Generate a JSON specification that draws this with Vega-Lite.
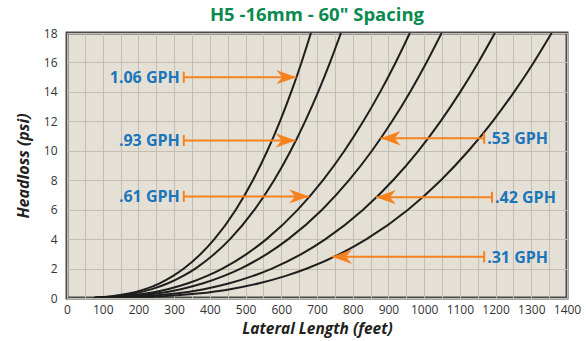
{
  "$schema": "https://vega.github.io/schema/vega-lite/v6.json",
  "width": 500,
  "height": 265,
  "autosize": {"type": "none"},
  "padding": {"left": 67, "top": 33, "right": 19, "bottom": 43},
  "background": "white",
  "title": {"text": "H5 -16mm - 60\" Spacing", "color": "#0a8a4f", "font": "Open Sans", "fontSize": 18.5, "fontWeight": "bold", "offset": 3, "anchor": "middle"},
  "config": {
    "view": {"fill": "#e5e0d5", "stroke": "#4a4a4a", "strokeWidth": 3},
    "font": "Open Sans",
    "axis": {"labelOverlap": false, "labelFlush": false}
  },
  "datasets": {
    "curves": [
      {"gph": "1.06", "L": 75, "h": 0}, {"gph": "1.06", "L": 80.1, "h": 0.03}, {"gph": "1.06", "L": 119.9, "h": 0.1}, {"gph": "1.06", "L": 173.3, "h": 0.3}, {"gph": "1.06", "L": 218.6, "h": 0.6}, {"gph": "1.06", "L": 259.3, "h": 1}, {"gph": "1.06", "L": 297.1, "h": 1.5}, {"gph": "1.06", "L": 327.2, "h": 2}, {"gph": "1.06", "L": 374.8, "h": 3}, {"gph": "1.06", "L": 412.7, "h": 4}, {"gph": "1.06", "L": 472.7, "h": 6}, {"gph": "1.06", "L": 520.5, "h": 8}, {"gph": "1.06", "L": 561, "h": 10}, {"gph": "1.06", "L": 596.3, "h": 12}, {"gph": "1.06", "L": 627.9, "h": 14}, {"gph": "1.06", "L": 656.6, "h": 16}, {"gph": "1.06", "L": 683, "h": 18},
      {"gph": ".93", "L": 75, "h": 0}, {"gph": ".93", "L": 84.4, "h": 0.03}, {"gph": ".93", "L": 127.9, "h": 0.1}, {"gph": ".93", "L": 186.8, "h": 0.3}, {"gph": ".93", "L": 237.2, "h": 0.6}, {"gph": ".93", "L": 283, "h": 1}, {"gph": ".93", "L": 325.4, "h": 1.5}, {"gph": ".93", "L": 359.4, "h": 2}, {"gph": ".93", "L": 413.3, "h": 3}, {"gph": ".93", "L": 456.5, "h": 4}, {"gph": ".93", "L": 525.1, "h": 6}, {"gph": ".93", "L": 579.9, "h": 8}, {"gph": ".93", "L": 626.3, "h": 10}, {"gph": ".93", "L": 666.8, "h": 12}, {"gph": ".93", "L": 703.3, "h": 14}, {"gph": ".93", "L": 736.5, "h": 16}, {"gph": ".93", "L": 767, "h": 18},
      {"gph": ".61", "L": 75, "h": 0}, {"gph": ".61", "L": 95.9, "h": 0.03}, {"gph": ".61", "L": 148, "h": 0.1}, {"gph": ".61", "L": 219.8, "h": 0.3}, {"gph": ".61", "L": 282.1, "h": 0.6}, {"gph": ".61", "L": 339.2, "h": 1}, {"gph": ".61", "L": 392.4, "h": 1.5}, {"gph": ".61", "L": 435.3, "h": 2}, {"gph": ".61", "L": 503.7, "h": 3}, {"gph": ".61", "L": 558.6, "h": 4}, {"gph": ".61", "L": 646.4, "h": 6}, {"gph": ".61", "L": 716.9, "h": 8}, {"gph": ".61", "L": 776.9, "h": 10}, {"gph": ".61", "L": 829.6, "h": 12}, {"gph": ".61", "L": 877, "h": 14}, {"gph": ".61", "L": 920.2, "h": 16}, {"gph": ".61", "L": 960, "h": 18},
      {"gph": ".53", "L": 75, "h": 0}, {"gph": ".53", "L": 111.8, "h": 0.03}, {"gph": ".53", "L": 170.4, "h": 0.1}, {"gph": ".53", "L": 250.3, "h": 0.3}, {"gph": ".53", "L": 319, "h": 0.6}, {"gph": ".53", "L": 381.4, "h": 1}, {"gph": ".53", "L": 439.6, "h": 1.5}, {"gph": ".53", "L": 486.2, "h": 2}, {"gph": ".53", "L": 560.3, "h": 3}, {"gph": ".53", "L": 619.6, "h": 4}, {"gph": ".53", "L": 714.2, "h": 6}, {"gph": ".53", "L": 789.8, "h": 8}, {"gph": ".53", "L": 853.9, "h": 10}, {"gph": ".53", "L": 910.2, "h": 12}, {"gph": ".53", "L": 960.7, "h": 14}, {"gph": ".53", "L": 1006.6, "h": 16}, {"gph": ".53", "L": 1049, "h": 18},
      {"gph": ".42", "L": 75, "h": 0}, {"gph": ".42", "L": 140.5, "h": 0.03}, {"gph": ".42", "L": 210.4, "h": 0.1}, {"gph": ".42", "L": 303.9, "h": 0.3}, {"gph": ".42", "L": 383.4, "h": 0.6}, {"gph": ".42", "L": 454.9, "h": 1}, {"gph": ".42", "L": 521.1, "h": 1.5}, {"gph": ".42", "L": 573.8, "h": 2}, {"gph": ".42", "L": 657.3, "h": 3}, {"gph": ".42", "L": 723.8, "h": 4}, {"gph": ".42", "L": 829.1, "h": 6}, {"gph": ".42", "L": 913, "h": 8}, {"gph": ".42", "L": 983.9, "h": 10}, {"gph": ".42", "L": 1045.9, "h": 12}, {"gph": ".42", "L": 1101.3, "h": 14}, {"gph": ".42", "L": 1151.6, "h": 16}, {"gph": ".42", "L": 1198, "h": 18},
      {"gph": ".31", "L": 75, "h": 0}, {"gph": ".31", "L": 175.2, "h": 0.03}, {"gph": ".31", "L": 257.6, "h": 0.1}, {"gph": ".31", "L": 366.1, "h": 0.3}, {"gph": ".31", "L": 457, "h": 0.6}, {"gph": ".31", "L": 538.2, "h": 1}, {"gph": ".31", "L": 612.7, "h": 1.5}, {"gph": ".31", "L": 671.9, "h": 2}, {"gph": ".31", "L": 764.8, "h": 3}, {"gph": ".31", "L": 838.6, "h": 4}, {"gph": ".31", "L": 954.8, "h": 6}, {"gph": ".31", "L": 1046.8, "h": 8}, {"gph": ".31", "L": 1124.3, "h": 10}, {"gph": ".31", "L": 1191.9, "h": 12}, {"gph": ".31", "L": 1252.1, "h": 14}, {"gph": ".31", "L": 1306.8, "h": 16}, {"gph": ".31", "L": 1357, "h": 18}
    ],
    "arrows": [
      {"label": "1.06 GPH", "h": 15, "L": 327, "L2": 642, "dir": "right"},
      {"label": ".93 GPH", "h": 10.7, "L": 327, "L2": 640, "dir": "right"},
      {"label": ".61 GPH", "h": 6.9, "L": 327, "L2": 678, "dir": "right"},
      {"label": ".53 GPH", "h": 10.85, "L": 1168, "L2": 878, "dir": "left"},
      {"label": ".42 GPH", "h": 6.85, "L": 1190, "L2": 865, "dir": "left"},
      {"label": ".31 GPH", "h": 2.8, "L": 1168, "L2": 742, "dir": "left"}
    ],
    "heads": [
      {"h": 15, "L": 642, "dir": "right"},
      {"h": 10.7, "L": 640, "dir": "right"},
      {"h": 6.9, "L": 678, "dir": "right"},
      {"h": 10.85, "L": 878, "dir": "left"},
      {"h": 6.85, "L": 865, "dir": "left"},
      {"h": 2.8, "L": 742, "dir": "left"}
    ]
  },
  "encoding": {
    "x": {
      "field": "L", "type": "quantitative",
      "scale": {"domain": [0, 1400], "nice": false, "zero": false},
      "axis": {
        "title": "Lateral Length (feet)",
        "values": [0, 50, 100, 150, 200, 250, 300, 350, 400, 450, 500, 550, 600, 650, 700, 750, 800, 850, 900, 950, 1000, 1050, 1100, 1150, 1200, 1250, 1300, 1350, 1400],
        "labelExpr": "datum.value % 100 === 0 ? datum.label : ''",
        "format": "d",
        "ticks": false, "domain": false,
        "grid": true, "gridColor": "#c4beb2", "gridWidth": 1, "gridOpacity": 1,
        "labelFont": "Open Sans", "labelFontSize": 12, "labelColor": "#333333", "labelPadding": 6,
        "labelOverlap": false, "labelFlush": false,
        "titleFont": "Open Sans", "titleFontSize": 15.5, "titleFontWeight": "bold", "titleFontStyle": "italic", "titleColor": "#231f20", "titlePadding": 6
      }
    },
    "y": {
      "field": "h", "type": "quantitative",
      "scale": {"domain": [0, 18], "nice": false},
      "axis": {
        "title": "Headloss (psi)",
        "values": [0, 2, 4, 6, 8, 10, 12, 14, 16, 18],
        "ticks": false, "domain": false,
        "grid": true, "gridColor": "#c4beb2", "gridWidth": 1, "gridOpacity": 1,
        "labelFont": "Open Sans", "labelFontSize": 12, "labelColor": "#333333", "labelPadding": 10,
        "labelOverlap": false,
        "titleFont": "Open Sans", "titleFontSize": 16, "titleFontWeight": "bold", "titleFontStyle": "italic", "titleColor": "#231f20", "titlePadding": 12
      }
    }
  },
  "layer": [
    {
      "data": {"name": "curves"},
      "mark": {"type": "line", "interpolate": "monotone", "color": "#1e1e1e", "strokeWidth": 2, "clip": true},
      "encoding": {"detail": {"field": "gph"}}
    },
    {
      "data": {"name": "arrows"},
      "mark": {"type": "rule", "color": "#f5821f", "strokeWidth": 2},
      "encoding": {"x2": {"field": "L2"}}
    },
    {
      "data": {"name": "arrows"},
      "mark": {"type": "tick", "orient": "vertical", "color": "#f5821f", "thickness": 2, "size": 11, "opacity": 1},
      "encoding": {}
    },
    {
      "data": {"name": "heads"},
      "mark": {"type": "point", "filled": true, "color": "#f5821f", "size": 400, "opacity": 1, "strokeWidth": 0},
      "encoding": {
        "shape": {
          "field": "dir", "type": "nominal",
          "scale": {"domain": ["right", "left"], "range": ["M0,0L-2,-0.72L-1.4,0L-2,0.72Z", "M0,0L2,-0.72L1.4,0L2,0.72Z"]},
          "legend": null
        }
      }
    },
    {
      "data": {"name": "arrows"},
      "transform": [{"filter": "datum.dir === 'right'"}],
      "mark": {"type": "text", "align": "right", "baseline": "middle", "dx": -4, "dy": 1, "font": "Open Sans", "fontSize": 16, "fontWeight": "bold", "color": "#1b75bb"},
      "encoding": {"text": {"field": "label"}}
    },
    {
      "data": {"name": "arrows"},
      "transform": [{"filter": "datum.dir === 'left'"}],
      "mark": {"type": "text", "align": "left", "baseline": "middle", "dx": 3, "dy": 1, "font": "Open Sans", "fontSize": 16, "fontWeight": "bold", "color": "#1b75bb"},
      "encoding": {"text": {"field": "label"}}
    }
  ]
}
